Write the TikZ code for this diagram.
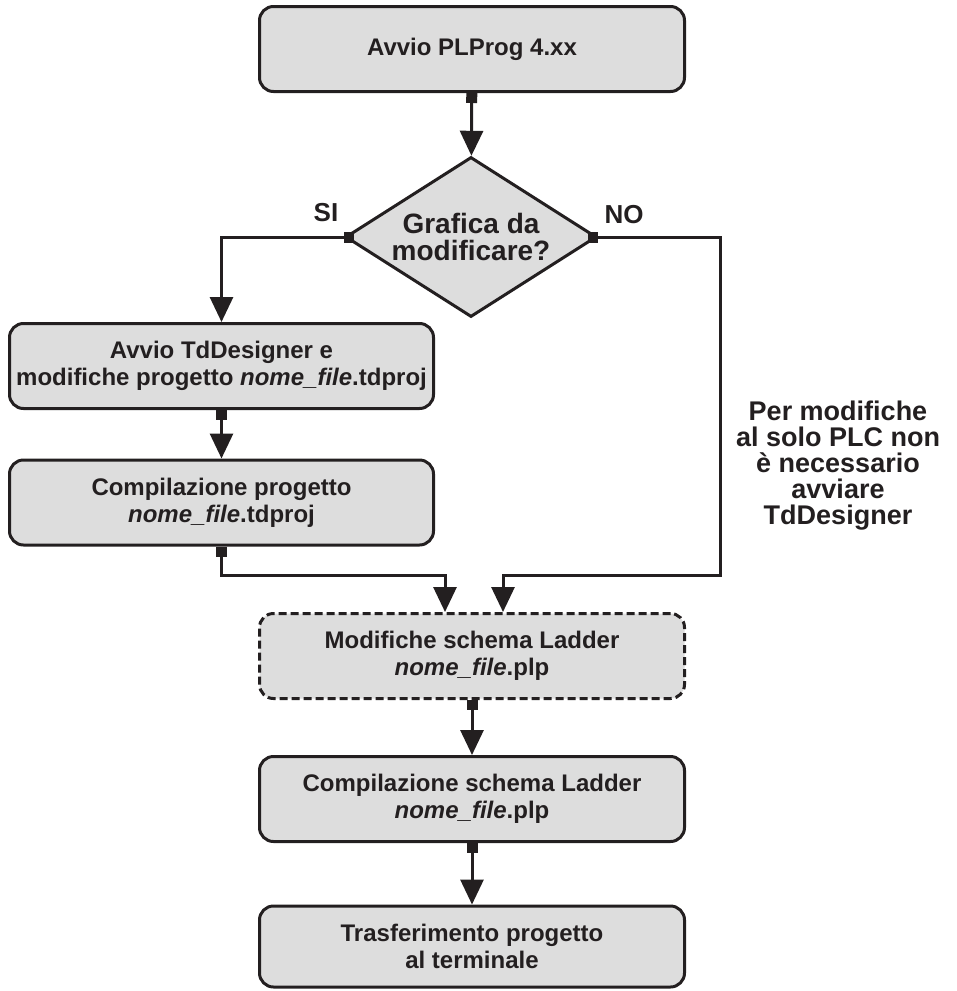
\documentclass[tikz,border=0pt]{standalone}
\usepackage{fontspec}
\setmainfont{Liberation Sans}
\usetikzlibrary{arrows.meta, positioning, shapes.geometric, calc}
\definecolor{flink}{HTML}{231F20}
\definecolor{flfill}{HTML}{DDDDDD}

\begin{document}
\begin{tikzpicture}[
  x=0.5pt, y=-0.5pt,
  every node/.style={text=flink, font=\bfseries},
  stepbox/.style={rectangle, rounded corners=7pt, draw=flink, fill=flfill, line width=1.5pt, minimum width=212.5pt, minimum height=42.5pt, align=center, inner sep=0pt, font=\fontsize{12}{13.5}\selectfont\bfseries},
  dashbox/.style={stepbox, dash pattern=on 4pt off 2pt},
  decisionbox/.style={diamond, draw=flink, fill=flfill, line width=1.5pt, minimum width=125.5pt, minimum height=80pt, aspect=1.56, inner sep=0pt, align=center, font=\fontsize{14}{13.5}\selectfont\bfseries},
  branchlabel/.style={font=\fontsize{13}{13}\selectfont\bfseries},
  notelabel/.style={align=center, font=\fontsize{13.5}{13}\selectfont\bfseries},
  flow/.style={draw=flink, line width=1.5pt, {Square[length=5pt, width=5.5pt]}-{Triangle[length=12.5pt, width=11.5pt]}},
]
\useasboundingbox (0,0) rectangle (957,991);

% Main column
\node[stepbox] (start) at (472, 49) {Avvio PLProg 4.xx};
\node[decisionbox] (decision) at (471, 237) {Grafica da\\modificare?};
\node[branchlabel] (silabel) at (326, 213) {SI};
\node[branchlabel] (nolabel) at (624, 215) {NO};

% Left branch: graphics to edit
\node[stepbox, minimum width=212pt] (tdedit) at (221.5, 366) {Avvio TdDesigner e\\modifiche progetto \textit{nome\_file}.tdproj};
\node[stepbox, minimum width=212pt] (tdcomp) at (221.5, 502.5) {Compilazione progetto\\\textit{nome\_file}.tdproj};

% Right branch: note only
\node[notelabel] (note) at (838, 466) {Per modifiche\\al solo PLC non\\è necessario\\avviare\\TdDesigner};

% Ladder steps
\node[dashbox] (ladderedit) at (472, 656) {Modifiche schema Ladder\\\textit{nome\_file}.plp};
\node[stepbox] (laddercomp) at (472, 799) {Compilazione schema Ladder\\\textit{nome\_file}.plp};
\node[stepbox, minimum height=40.5pt] (transfer) at (472, 946.5) {Trasferimento progetto\\al terminale};

\coordinate (yesin) at (445, 575);
\coordinate (nocorner) at (720, 575);
\coordinate (noin) at (503, 575);

\draw[flow] (start) -- (decision);
\draw[flow, shorten <=-5pt] (decision.west) -| (tdedit.north);
\draw[flow] (tdedit) -- (tdcomp);
\draw[flow] (tdcomp.south) |- (yesin) -- (yesin |- ladderedit.north);
\draw[flow, shorten <=-5pt] (decision.east) -| (nocorner) -- (noin) -- (noin |- ladderedit.north);
\draw[flow] (ladderedit) -- (laddercomp);
\draw[flow] (laddercomp) -- (transfer);

\end{tikzpicture}
\end{document}
